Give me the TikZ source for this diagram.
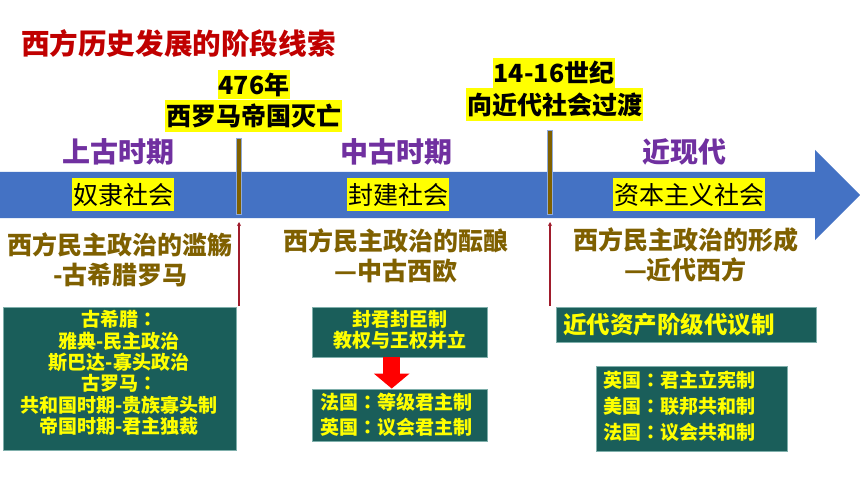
\documentclass[tikz,border=0pt]{standalone}
\usepackage{fontspec}
\setmainfont{Noto Sans CJK SC}
\newfontfamily\tcfont{Noto Sans CJK TC}
\usetikzlibrary{arrows.meta}
\definecolor{titlered}{HTML}{C00000}
\definecolor{purp}{HTML}{7030A0}
\definecolor{brn}{HTML}{7F6000}
\definecolor{barblue}{HTML}{4472C4}
\definecolor{boxgreen}{HTML}{1A5E5A}
\definecolor{boxedge}{HTML}{7FAFAB}
\definecolor{hl}{HTML}{FFFF00}
\definecolor{arrred}{HTML}{FF0000}
\definecolor{thinred}{HTML}{A01C2C}
\newcommand\fsz[2]{\fontsize{#1}{#2}\selectfont}
\newcommand\cco{{\tcfont ：}}
\begin{document}
\begin{tikzpicture}[x=1pt,y=-1pt,
  titletext/.style={font=\bfseries\fsz{28.6}{30}, text=titlered, inner sep=0pt, anchor=west},
  eventhl/.style={font=\bfseries\fsz{25}{28}, fill=hl, text=black, inner xsep=1pt, inner ysep=0pt},
  periodtext/.style={font=\bfseries\fsz{28}{30}, text=purp, inner sep=0pt},
  societyhl/.style={font=\fsz{25}{28}, fill=hl, text=black, inner xsep=1pt, inner ysep=0pt, minimum height=33pt},
  themetext/.style={font=\bfseries\fsz{25}{30}, text=brn, inner sep=0pt, align=center},
  gbox/.style={fill=boxgreen, draw=boxedge, line width=0.8pt, inner sep=0pt},
  gtext/.style={font=\bfseries\fsz{19}{21.4}, text=hl, inner sep=0pt},
  sepbar/.style={fill=brn, draw=barblue!60, line width=0.4pt},
  thinarrow/.style={draw=thinred, line width=1.6pt, -{Stealth[length=4pt,width=4pt]}},
  blockarrow/.style={draw=arrred, line width=17pt, -{Triangle[length=15pt,width=35pt]}}
]
\useasboundingbox (0,0) rectangle (860,484);
\fill[white] (0,0) rectangle (860,484);

% title
\node[titletext] (title) at (21,44) {西方历史发展的阶段线索};

% timeline arrow
\fill[barblue] (0,172) -- (815,172) -- (815,150) -- (860,195) -- (815,240) -- (815,218) -- (0,218) -- cycle;

% events
\node[eventhl, minimum height=29pt] (e1a) at (254,84.5) {476年\hspace{8pt}};
\node[eventhl, minimum height=32pt] (e1b) at (253.5,116) {西罗马帝国灭亡\hspace{8pt}};
\node[eventhl, minimum height=30pt] (e2a) at (554,73) {14-16世纪\hspace{10pt}};
\node[eventhl, minimum height=33pt] (e2b) at (554.5,104.5) {向近代社会过渡\hspace{8pt}};

% periods
\node[periodtext] (p1) at (118,152) {上古时期};
\node[periodtext] (p2) at (396,152) {中古时期};
\node[periodtext] (p3) at (684.5,152) {近现代};

% societies
\node[societyhl] (s1) at (123,194.5) {奴隶社会\hspace{8pt}};
\node[societyhl] (s2) at (398,194.5) {封建社会\hspace{8pt}};
\node[societyhl] (s3) at (689,194.5) {资本主义社会\hspace{8pt}};

% separators
\draw[sepbar] (236.5,138) rectangle (241.5,214);
\draw[sepbar] (547.5,130) rectangle (552.5,214);

% thin arrows
\coordinate (a1b) at (239,306);
\coordinate (a1t) at (239,222);
\coordinate (a2b) at (550,306);
\coordinate (a2t) at (550,222);
\draw[thinarrow] (a1b) -- (a1t);
\draw[thinarrow] (a2b) -- (a2t);

% themes
\node[themetext] (t1) at (120.5,259.5) {西方民主政治的滥觞\\-古希腊罗马};
\node[themetext] (t2) at (396,256) {西方民主政治的酝酿\\—中古西欧};
\node[themetext] (t3) at (685.5,255) {西方民主政治的形成\\—近代西方};

% boxes
\node[gbox, minimum width=233pt, minimum height=143pt] (b1) at (120,379) {};
\node[gtext, align=center] (b1t) at (119,373) {古希腊\cco\\雅典-民主政治\\斯巴达-寡头政治\\古罗马\cco\\共和国时期-贵族寡头制\\帝国时期-君主独裁};

\node[gbox, minimum width=175pt, minimum height=50pt] (b2) at (400,332) {};
\node[gtext, align=center] (b2t) at (399.5,330) {封君封臣制\\教权与王权并立};

\node[gbox, minimum width=175pt, minimum height=52.7pt] (b3) at (400,415.3) {};
\node[gtext, align=left, anchor=west, font=\bfseries\fsz{19}{25}] (b3t) at (320,415) {法国\cco 等级君主制\\英国\cco 议会君主制};

\draw[blockarrow] ([xshift=-8.3pt]b2.south) -- ([xshift=-8.3pt]b3.north);

\node[gbox, minimum width=260pt, minimum height=35pt] (b4) at (686.7,324.5) {};
\node[gtext, anchor=west, font=\bfseries\fsz{23.5}{26}] (b4t) at (563,324.5) {近代资产阶级代议制};

\node[gbox, minimum width=191pt, minimum height=84.3pt] (b5) at (692.2,408.8) {};
\node[gtext, align=left, anchor=west, font=\bfseries\fsz{19}{26}] (b5t) at (603,406) {英国\cco 君主立宪制\\美国\cco 联邦共和制\\法国\cco 议会共和制};
\end{tikzpicture}
\end{document}
